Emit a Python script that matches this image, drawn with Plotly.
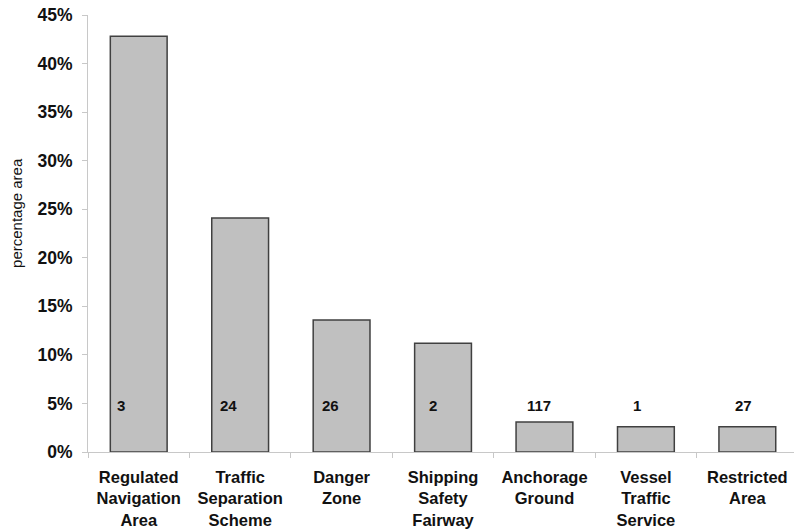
import plotly.graph_objects as go

categories = [
    ["Regulated", "Navigation", "Area"],
    ["Traffic", "Separation", "Scheme"],
    ["Danger", "Zone"],
    ["Shipping", "Safety", "Fairway"],
    ["Anchorage", "Ground"],
    ["Vessel", "Traffic", "Service"],
    ["Restricted", "Area"],
]
percentage_area = [0.428, 0.241, 0.136, 0.112, 0.031, 0.026, 0.026]
counts = [3, 24, 26, 2, 117, 1, 27]
y_ticks = [0, 0.05, 0.10, 0.15, 0.20, 0.25, 0.30, 0.35, 0.40, 0.45]

labels = ["<br>".join(c) for c in categories]
FONT = "Liberation Sans, Arial, sans-serif"

fig = go.Figure(
    go.Bar(
        x=labels,
        y=percentage_area,
        width=0.56,
        marker=dict(color="#c0c0c0", line=dict(color="#404040", width=1.5)),
        hoverinfo="skip",
    )
)

label_height = 0.048
label_dx = [-18, -12, -11, -10, -5, -9, -4]
for i, (cat, n) in enumerate(zip(labels, counts)):
    fig.add_annotation(
        x=cat, y=label_height, text=str(n), showarrow=False,
        xanchor="center", yanchor="middle", xshift=label_dx[i],
        font=dict(family=FONT, size=15, color="#111111", weight="bold"),
    )

fig.add_annotation(
    x=0, xref="paper", xshift=-71, y=0.547, yref="paper", text="percentage area",
    showarrow=False, textangle=-90, xanchor="center", yanchor="middle",
    font=dict(family=FONT, size=15, color="#111111"),
)

fig.update_layout(
    width=794, height=529,
    margin=dict(l=88, r=0, t=15, b=77, autoexpand=False),
    paper_bgcolor="white", plot_bgcolor="white",
    showlegend=False,
    xaxis=dict(
        range=[-0.5, 6.46], automargin=False,
        showline=True, linecolor="#c8c8c8", linewidth=1,
        ticks="outside", ticklen=5, tickcolor="#c8c8c8", tickson="boundaries",
        tickfont=dict(family=FONT, size=16.5, color="#111111", weight="bold"),
        ticklabelstandoff=10, ticklabeloverflow="allow",
        showgrid=False, zeroline=False, fixedrange=True,
    ),
    yaxis=dict(
        range=[0, 0.45], tickvals=y_ticks, tickformat=".0%", automargin=False,
        showline=True, linecolor="#c8c8c8", linewidth=1,
        ticks="outside", ticklen=5, tickcolor="#c8c8c8",
        tickfont=dict(family=FONT, size=17.5, color="#111111", weight="bold"),
        ticklabelstandoff=6, ticklabeloverflow="allow",
        showgrid=False, zeroline=False, fixedrange=True,
    ),
)

fig.write_html(
    "out.html",
    config={"displayModeBar": False},
    post_script="document.body.style.margin='0';document.body.style.overflow='hidden';",
)
